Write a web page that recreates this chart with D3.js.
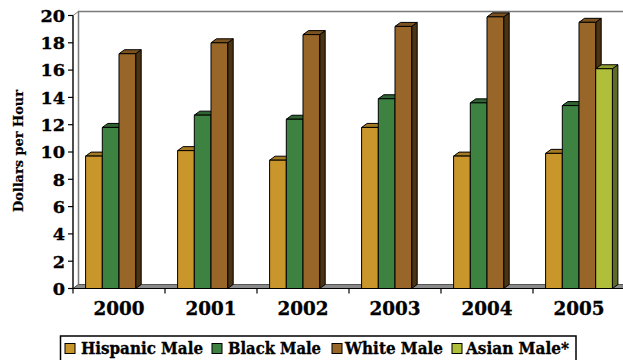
<!DOCTYPE html>
<html>
<head>
<meta charset="utf-8">
<script src="https://cdn.jsdelivr.net/npm/d3@7/dist/d3.min.js"></script>
<style>
  html, body { margin: 0; padding: 0; background: #fff; }
  svg { display: block; }
  text { font-family: "DejaVu Serif", "Liberation Serif", serif; font-weight: bold; fill: #000; stroke: #000; stroke-width: 0.35px; }
</style>
</head>
<body>
<svg id="chart" width="623" height="360"></svg>
<script>
// Hourly earnings by group, 2000–2005
const years = ["2000", "2001", "2002", "2003", "2004", "2005"];
const seriesNames = ["Hispanic Male", "Black Male", "White Male", "Asian Male*"];
const hispanic = [9.7, 10.1, 9.4, 11.8, 9.7, 9.9];
const black    = [11.8, 12.7, 12.4, 13.9, 13.6, 13.4];
const white    = [17.2, 18.0, 18.6, 19.2, 19.9, 19.5];
const asian    = [null, null, null, null, null, 16.1];
const yTicks   = [0, 2, 4, 6, 8, 10, 12, 14, 16, 18, 20];

const seriesValues = [hispanic, black, white, asian];
// front, top, side shades per series
const palette = [
  { front: "#C9962C", top: "#A67A22", side: "#6E5218" },
  { front: "#3D8240", top: "#2F6532", side: "#1F4421" },
  { front: "#996629", top: "#7C5220", side: "#4A3414" },
  { front: "#B0BF3A", top: "#909C2E", side: "#5E6A28" }
];

const svg = d3.select("#chart");
const left = 73, right = 625, y0px = 288.5, y20px = 15.5;
const dx = 5.5, dy = 4;   // depth offset of the 3-D projection

const x = d3.scaleBand().domain(years).range([left, right]).paddingInner(0).paddingOuter(0);
const xi = d3.scaleBand().domain(d3.range(seriesNames.length))
  .range([0, x.bandwidth()]).paddingInner(0).paddingOuter(0.755);
const y = d3.scaleLinear().domain([0, 20]).range([y0px, y20px]);

// side wall (between front axis and back wall)
svg.append("polygon")
  .attr("points", [[left, y(0)], [left, y(20)], [left + dx, y(20) - dy], [left + dx, y(0) - dy]].join(" "))
  .attr("fill", "#fff").attr("stroke", "#808080").attr("stroke-width", 1);
// back wall edges
svg.append("path")
  .attr("d", `M${left + dx},${y(0) - dy}V${y(20) - dy}H${right + 20}`)
  .attr("fill", "none").attr("stroke", "#7a7a7a").attr("stroke-width", 1.5);

// floor
svg.append("polygon")
  .attr("points", [[left, y(0)], [left + dx, y(0) - dy], [right + 20, y(0) - dy], [right + 20, y(0)]].join(" "))
  .attr("fill", "#8a8a8a").attr("stroke", "#555").attr("stroke-width", 1);

// bars
const bars = [];
years.forEach((yr, i) => {
  seriesValues.forEach((vals, s) => {
    if (vals[i] == null) return;
    bars.push({ yr, s, v: vals[i] });
  });
});

const g = svg.append("g").attr("stroke", "#000").attr("stroke-width", 1).attr("stroke-linejoin", "round");
bars.forEach(b => {
  const x0 = x(b.yr) + xi(b.s), x1 = x0 + xi.bandwidth();
  const yt = y(b.v), yb = y(0);
  const c = palette[b.s];
  const bg = g.append("g");
  // side face
  bg.append("polygon")
    .attr("points", [[x1, yb], [x1, yt], [x1 + dx, yt - dy], [x1 + dx, yb - dy]].join(" "))
    .attr("fill", c.side);
  // top face
  bg.append("polygon")
    .attr("points", [[x0, yt], [x0 + dx, yt - dy], [x1 + dx, yt - dy], [x1, yt]].join(" "))
    .attr("fill", c.top);
  // front face
  bg.append("rect")
    .attr("x", x0).attr("y", yt).attr("width", x1 - x0).attr("height", yb - yt)
    .attr("fill", c.front);
});

// y axis
const yAxis = svg.append("g");
yAxis.append("line").attr("x1", left).attr("x2", left).attr("y1", y(0)).attr("y2", y(20))
  .attr("stroke", "#000").attr("stroke-width", 1.2);
yTicks.forEach(t => {
  yAxis.append("line").attr("x1", left - 5).attr("x2", left).attr("y1", y(t)).attr("y2", y(t))
    .attr("stroke", "#000").attr("stroke-width", 1.2);
  yAxis.append("text").attr("x", 65).attr("y", y(t)).attr("dy", "0.36em")
    .attr("text-anchor", "end").attr("font-size", 17.5)
    .attr("textLength", String(t).length * 12.3).attr("lengthAdjust", "spacingAndGlyphs")
    .text(t);
});

// x axis
const xAxis = svg.append("g");
xAxis.append("line").attr("x1", left).attr("x2", right + 20).attr("y1", y(0)).attr("y2", y(0))
  .attr("stroke", "#000").attr("stroke-width", 1.2);
years.forEach((yr, i) => {
  xAxis.append("line").attr("x1", x(yr)).attr("x2", x(yr)).attr("y1", y(0)).attr("y2", y(0) + 5)
    .attr("stroke", "#000").attr("stroke-width", 1.2);
  xAxis.append("text").attr("x", x(yr) + x.bandwidth() / 2).attr("y", 315)
    .attr("text-anchor", "middle").attr("font-size", 18)
    .attr("textLength", 51).attr("lengthAdjust", "spacingAndGlyphs")
    .text(yr);
});

// y axis title
svg.append("text")
  .attr("transform", "translate(22.5,151) rotate(-90)")
  .attr("text-anchor", "middle").attr("font-size", 13)
  .attr("textLength", 122).attr("lengthAdjust", "spacingAndGlyphs")
  .style("stroke-width", "0.2px")
  .text("Dollars per Hour");

// legend
const legend = svg.append("g");
legend.append("rect").attr("x", 60.5).attr("y", 336).attr("width", 515.5).attr("height", 30)
  .attr("fill", "#fff").attr("stroke", "#000").attr("stroke-width", 1.5);
const legendSwatchX = [65, 212, 332, 452];
const legendTextX = [81, 228, 345, 466];
const legendTextW = [122, 93, 98, 103];
seriesNames.forEach((name, s) => {
  legend.append("rect").attr("x", legendSwatchX[s]).attr("y", 343.5).attr("width", 10).attr("height", 10)
    .attr("fill", palette[s].front).attr("stroke", "#000").attr("stroke-width", 1);
  legend.append("text").attr("x", legendTextX[s]).attr("y", 353.5).attr("font-size", 16.5)
    .attr("textLength", legendTextW[s]).attr("lengthAdjust", "spacingAndGlyphs")
    .text(name);
});
</script>
</body>
</html>
